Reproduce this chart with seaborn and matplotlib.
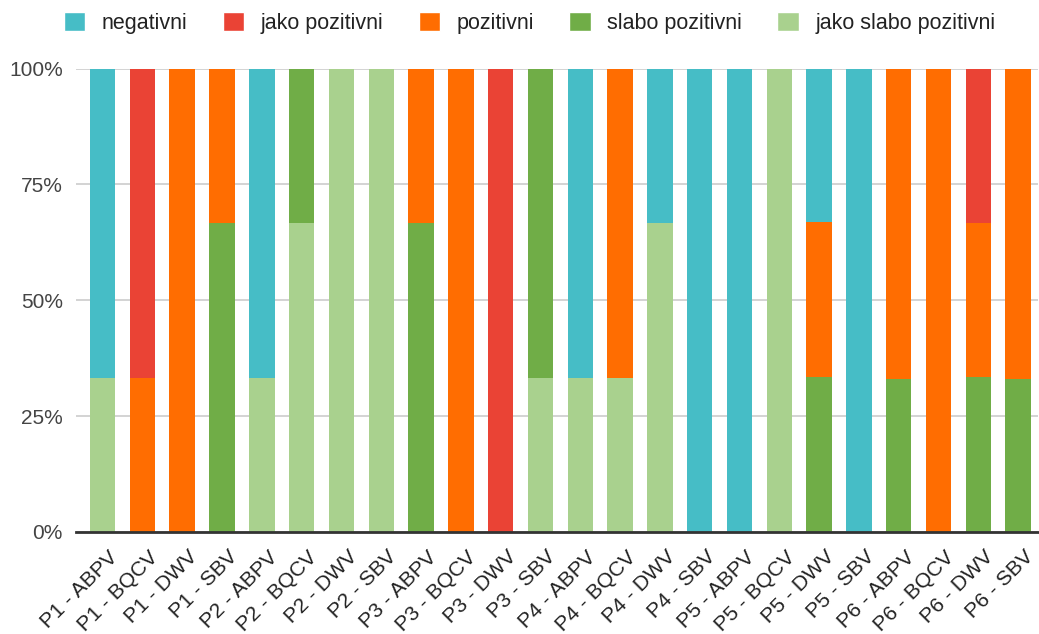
import numpy as np
import pandas as pd
import seaborn as sns
import matplotlib.pyplot as plt
from matplotlib.patches import Patch
from matplotlib.ticker import FuncFormatter
from matplotlib.transforms import ScaledTranslation

categories = ["P1 - ABPV", "P1 - BQCV", "P1 - DWV", "P1 - SBV",
              "P2 - ABPV", "P2 - BQCV", "P2 - DWV", "P2 - SBV",
              "P3 - ABPV", "P3 - BQCV", "P3 - DWV", "P3 - SBV",
              "P4 - ABPV", "P4 - BQCV", "P4 - DWV", "P4 - SBV",
              "P5 - ABPV", "P5 - BQCV", "P5 - DWV", "P5 - SBV",
              "P6 - ABPV", "P6 - BQCV", "P6 - DWV", "P6 - SBV"]

# udjeli u % (od dna prema vrhu stupca)
jako_slabo_pozitivni = [33.3, 0, 0, 0, 33.3, 66.7, 100, 100, 0, 0, 0, 33.3,
                        33.3, 33.3, 66.7, 0, 0, 100, 0, 0, 0, 0, 0, 0]
slabo_pozitivni = [0, 0, 0, 66.7, 0, 33.3, 0, 0, 66.7, 0, 0, 66.7,
                   0, 0, 0, 0, 0, 0, 33.5, 0, 33.0, 0, 33.5, 33.0]
pozitivni = [0, 33.3, 100, 33.3, 0, 0, 0, 0, 33.3, 100, 0, 0,
             0, 66.7, 0, 0, 0, 0, 33.3, 0, 67.0, 100, 33.2, 67.0]
jako_pozitivni = [0, 66.7, 0, 0, 0, 0, 0, 0, 0, 0, 100, 0,
                  0, 0, 0, 0, 0, 0, 0, 0, 0, 0, 33.3, 0]
negativni = [66.7, 0, 0, 0, 66.7, 0, 0, 0, 0, 0, 0, 0,
             66.7, 0, 33.3, 100, 100, 0, 33.2, 100, 0, 0, 0, 0]

series = {
    "jako slabo pozitivni": jako_slabo_pozitivni,
    "slabo pozitivni": slabo_pozitivni,
    "pozitivni": pozitivni,
    "jako pozitivni": jako_pozitivni,
    "negativni": negativni,
}
colors = {
    "negativni": "#46bdc6",
    "jako pozitivni": "#ea4335",
    "pozitivni": "#ff6d01",
    "slabo pozitivni": "#70ad47",
    "jako slabo pozitivni": "#a9d18e",
}

sns.set_theme(style="white")
plt.rcParams["font.family"] = ["Liberation Sans", "DejaVu Sans"]

df = pd.DataFrame(series, index=categories)
cum = df.cumsum(axis=1)

fig = plt.figure(figsize=(10.39, 6.34), dpi=100)
ax = fig.add_axes([0.0731, 0.1609, 0.926, 0.731])

# crtamo kumulativne sume od vrha prema dnu da se preklapaju
for name in reversed(list(series.keys())):
    sns.barplot(x=categories, y=cum[name].values, color=colors[name],
                width=0.64, saturation=1, linewidth=0, ax=ax, zorder=2)

ax.set_ylim(0, 100)
ax.set_xlim(-0.67, len(categories) - 0.5)
ax.set_yticks([0, 25, 50, 75, 100])
ax.yaxis.set_major_formatter(FuncFormatter(lambda v, p: f"{int(v)}%"))
ax.grid(axis="y", color="#cccccc", linewidth=1.2, zorder=0)
ax.set_axisbelow(True)
for s in ["top", "right", "left"]:
    ax.spines[s].set_visible(False)
ax.spines["bottom"].set_color("#333333")
ax.spines["bottom"].set_linewidth(2)
ax.spines["bottom"].set_zorder(3)
ax.tick_params(axis="y", labelsize=15, colors="#444444", length=0, pad=9.5)
ax.tick_params(axis="x", labelsize=15.2, colors="#222222", length=0, pad=11)
shift = ScaledTranslation(6 / 100, 0, fig.dpi_scale_trans)
for lab in ax.get_xticklabels():
    lab.set_rotation(45)
    lab.set_ha("right")
    lab.set_va("top")
    lab.set_rotation_mode("anchor")
    lab.set_transform(lab.get_transform() + shift)
ax.set_xlabel("")
ax.set_ylabel("")

legend_order = ["negativni", "jako pozitivni", "pozitivni",
                "slabo pozitivni", "jako slabo pozitivni"]
handles = [Patch(facecolor=colors[n], label=n) for n in legend_order]
fig.legend(handles=handles, loc="center", bbox_to_anchor=(0.5096, 1 - 23 / 634),
           ncol=5, frameon=False, fontsize=15.5, handlelength=1.0,
           handleheight=1.0, columnspacing=1.65, handletextpad=0.75,
           labelcolor="#222222", borderaxespad=0)

fig.savefig("out.png", dpi=100)
